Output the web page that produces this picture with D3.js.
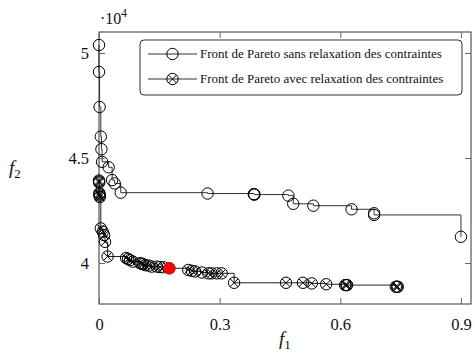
<!DOCTYPE html>
<html><head><meta charset="utf-8">
<script src="https://cdn.jsdelivr.net/npm/d3@7"></script>
<style>body{margin:0;background:#fff}svg{display:block}</style>
</head><body>
<script>
// ---- data ----
const xTicks = [0, 0.3, 0.6, 0.9];
const xTickLabels = ["0", "0.3", "0.6", "0.9"];
const yTicks = [40000, 45000, 50000];
const yTickLabels = ["4", "4.5", "5"];
const seriesNames = ["Front de Pareto sans relaxation des contraintes", "Front de Pareto avec relaxation des contraintes"];

const upperF1 = [0, 0, 0.0015, 0.0045, 0.006, 0.0077, 0.024, 0.0326, 0.039, 0.054, 0.270, 0.385, 0.3855, 0.3865, 0.471, 0.483, 0.533, 0.628, 0.684, 0.684, 0.900];
const upperF2 = [50380, 49100, 47430, 46020, 45420, 44820, 44560, 43950, 43790, 43350, 43310, 43280, 43270, 43260, 43210, 42820, 42730, 42560, 42370, 42290, 41250];

const lowerF1 = [0, 0.0003, 0.0005, 0.001, 0.0012, 0.0015, 0.002, 0.0045, 0.0094, 0.0127, 0.015, 0.0214, 0.0674, 0.0723, 0.0773, 0.084, 0.102, 0.106, 0.110, 0.115, 0.123, 0.131, 0.144, 0.152, 0.160, 0.175, 0.222, 0.231, 0.239, 0.256, 0.272, 0.280, 0.293, 0.305, 0.336, 0.465, 0.507, 0.529, 0.565, 0.612, 0.615, 0.617, 0.738, 0.741, 0.743];
const lowerF2 = [43930, 43880, 43830, 43330, 43270, 43210, 43140, 41650, 41490, 41330, 41010, 40310, 40240, 40190, 40140, 40070, 39990, 39970, 39950, 39900, 39880, 39830, 39830, 39810, 39800, 39750, 39670, 39630, 39600, 39550, 39510, 39510, 39510, 39510, 39060, 39060, 39060, 39030, 38990, 38950, 38950, 38950, 38870, 38870, 38870];

const selectedF1 = [0.175];
const selectedF2 = [39750];

// ---- layout ----
const FONT = "'Liberation Serif', 'Times New Roman', serif";
const W = 475, H = 356;
const L = 99, R = 471, T = 32, B = 304;
const svg = d3.select("body").append("svg").attr("width", W).attr("height", H)
  .style("font-family", FONT);
const x = d3.scaleLinear().domain([0, 0.925]).range([L, R]);
const y = d3.scaleLinear().domain([38050, 51000]).range([B, T]);
const axisCol = "#333";
const tickLen = 6;

// frame
svg.append("rect").attr("x", L).attr("y", T).attr("width", R - L).attr("height", B - T)
  .attr("fill", "none").attr("stroke", axisCol).attr("stroke-width", 1);

// axes via d3
const xb = svg.append("g").attr("transform", `translate(0,${B})`)
  .call(d3.axisBottom(x).tickValues(xTicks).tickSizeInner(-tickLen).tickSizeOuter(0).tickPadding(14)
    .tickFormat((d, i) => xTickLabels[i]));
const xt = svg.append("g").attr("transform", `translate(0,${T})`)
  .call(d3.axisTop(x).tickValues(xTicks).tickSizeInner(-tickLen).tickSizeOuter(0).tickFormat(""));
const yl = svg.append("g").attr("transform", `translate(${L},0)`)
  .call(d3.axisLeft(y).tickValues(yTicks).tickSizeInner(-tickLen).tickSizeOuter(0).tickPadding(10)
    .tickFormat((d, i) => yTickLabels[i]));
const yr = svg.append("g").attr("transform", `translate(${R},0)`)
  .call(d3.axisRight(y).tickValues(yTicks).tickSizeInner(-tickLen).tickSizeOuter(0).tickFormat(""));
[xb, xt, yl, yr].forEach(g => {
  g.attr("font-family", null).attr("font-size", null);
  g.select(".domain").remove();
  g.selectAll(".tick line").attr("stroke", "#666").attr("stroke-width", 1);
  g.selectAll("text").style("font-family", FONT).style("font-size", "16.5px").attr("fill", "#111");
});

// multiplier label
const m = svg.append("text").attr("x", 100).attr("y", 24).style("font-size", "16px").attr("fill", "#111");
m.append("tspan").text("·10");
m.append("tspan").attr("dy", -7).style("font-size", "11.5px").text("4");

// axis titles
const xl = svg.append("text").attr("x", 279).attr("y", 345).style("font-size", "19px").style("font-style", "italic").attr("fill", "#111");
xl.append("tspan").text("f");
xl.append("tspan").attr("dy", 4).style("font-size", "13px").style("font-style", "normal").text("1");
const ylab = svg.append("text").attr("x", 9).attr("y", 174).style("font-size", "19px").style("font-style", "italic").attr("fill", "#111");
ylab.append("tspan").text("f");
ylab.append("tspan").attr("dy", 4).style("font-size", "13px").style("font-style", "normal").text("2");

// series
const line = d3.line().curve(d3.curveStepAfter).x(d => x(d[0])).y(d => y(d[1]));
const upper = upperF1.map((v, i) => [v, upperF2[i]]);
const lower = lowerF1.map((v, i) => [v, lowerF2[i]]);
const r = 5.7;

function drawCircle(g, cx, cy) {
  g.append("circle").attr("cx", cx).attr("cy", cy).attr("r", r)
    .attr("fill", "none").attr("stroke", "#000").attr("stroke-width", 1);
}
function drawOtimes(g, cx, cy) {
  drawCircle(g, cx, cy);
  const k = r * Math.SQRT1_2;
  g.append("path").attr("d", `M${cx - k},${cy - k}L${cx + k},${cy + k}M${cx - k},${cy + k}L${cx + k},${cy - k}`)
    .attr("stroke", "#000").attr("stroke-width", 1).attr("fill", "none");
}

svg.append("path").attr("d", line(upper)).attr("fill", "none").attr("stroke", "#333").attr("stroke-width", 1);
const gu = svg.append("g");
upper.forEach(d => drawCircle(gu, x(d[0]), y(d[1])));

svg.append("path").attr("d", line(lower)).attr("fill", "none").attr("stroke", "#222").attr("stroke-width", 1);
const gl = svg.append("g");
lower.forEach(d => drawOtimes(gl, x(d[0]), y(d[1])));

svg.selectAll(".sel").data(selectedF1.map((v, i) => [v, selectedF2[i]])).enter()
  .append("circle").attr("cx", d => x(d[0])).attr("cy", d => y(d[1])).attr("r", 6).attr("fill", "#f00");

// legend
const lg = svg.append("g");
lg.append("rect").attr("x", 140).attr("y", 40).attr("width", 322).attr("height", 55).attr("rx", 4)
  .attr("fill", "#fff").attr("stroke", "#333").attr("stroke-width", 1);
[54, 79].forEach((ly, i) => {
  lg.append("line").attr("x1", 148).attr("x2", 197).attr("y1", ly).attr("y2", ly).attr("stroke", "#333").attr("stroke-width", 1);
  if (i === 0) drawCircle(lg, 172.5, ly); else drawOtimes(lg, 172.5, ly);
  const t = lg.append("text").attr("x", 200).attr("y", ly + 4).style("font-size", "13px").attr("fill", "#111").text(seriesNames[i]);
});
</script>
</body></html>
